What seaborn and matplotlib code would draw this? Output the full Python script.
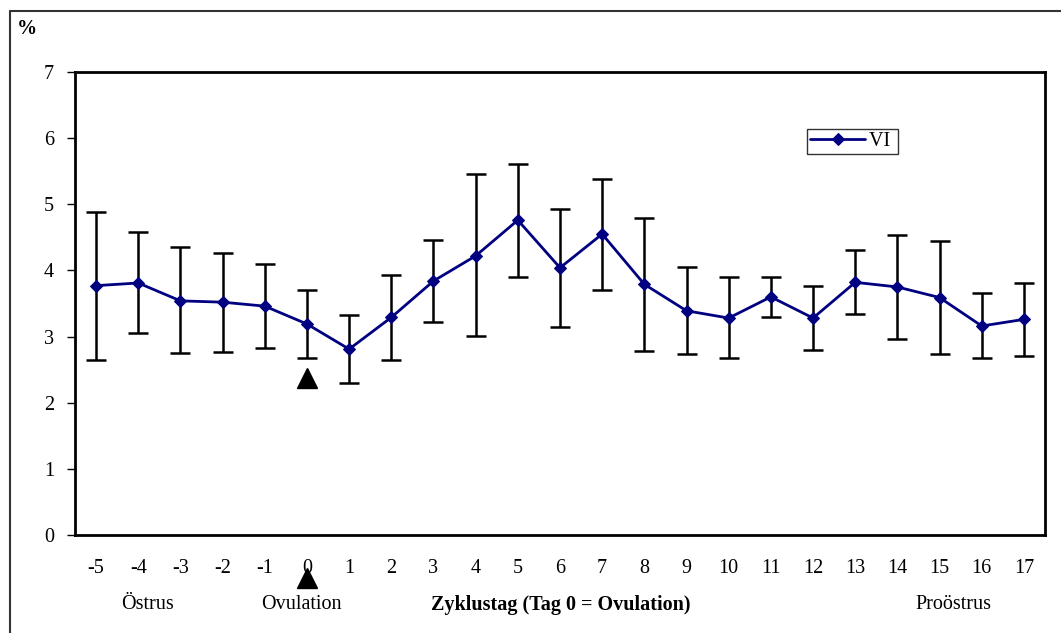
import matplotlib
matplotlib.use("Agg")
import matplotlib.pyplot as plt
from matplotlib.lines import Line2D
import matplotlib.transforms as mtransforms
import seaborn as sns
import pandas as pd
import numpy as np

# ---- data ----
days = [-5, -4, -3, -2, -1, 0, 1, 2, 3, 4, 5, 6, 7, 8, 9, 10, 11, 12, 13, 14, 15, 16, 17]
vi_mean = [3.77, 3.81, 3.54, 3.52, 3.46, 3.19, 2.81, 3.29, 3.84, 4.22, 4.76, 4.04, 4.55,
           3.79, 3.39, 3.28, 3.60, 3.28, 3.82, 3.75, 3.59, 3.16, 3.26]
vi_upper = [4.88, 4.58, 4.36, 4.27, 4.10, 3.71, 3.32, 3.93, 4.46, 5.46, 5.61, 4.93, 5.38,
            4.79, 4.05, 3.90, 3.90, 3.76, 4.31, 4.53, 4.45, 3.66, 3.81]
vi_lower = [2.65, 3.06, 2.75, 2.77, 2.82, 2.67, 2.30, 2.65, 3.22, 3.01, 3.90, 3.15, 3.70,
            2.78, 2.73, 2.67, 3.29, 2.79, 3.34, 2.96, 2.73, 2.68, 2.71]
y_ticks = [0, 1, 2, 3, 4, 5, 6, 7]
series_name = "VI"
ovulation_day = 0
ovulation_marker_y = 2.37

sns.set_theme(style="white")
plt.rcParams['font.family'] = ['Liberation Serif', 'DejaVu Serif']
plt.rcParams['text.color'] = 'black'
plt.rcParams['axes.labelcolor'] = 'black'
plt.rcParams['xtick.color'] = 'black'
plt.rcParams['ytick.color'] = 'black'

df = pd.DataFrame({"pos": np.arange(len(days)), "day": days, "value": vi_mean})

fig = plt.figure(figsize=(10.61, 6.33), dpi=100)
W, H = 1061, 633
ax = fig.add_axes([75 / W, 1 - 535 / H, (1045 - 75) / W, (535 - 72) / H])

pos = df["pos"].to_numpy()
mean = np.array(vi_mean)
yerr = np.vstack([mean - np.array(vi_lower), np.array(vi_upper) - mean])
ax.errorbar(pos, mean, yerr=yerr, fmt="none", ecolor="black", elinewidth=1.8,
            capsize=7, capthick=1.8, zorder=2)

sns.lineplot(data=df, x="pos", y="value", ax=ax, color="#000080", linewidth=2,
             marker="D", markersize=6.5, markeredgecolor="#000080", label=series_name,
             zorder=3)

ax.set_xlim(-0.5, len(days) - 0.5)
ax.set_ylim(0, 7)
ax.set_xticks(pos)
ax.set_xticklabels([str(d) for d in days])
ax.set_yticks(y_ticks)
ax.set_yticklabels([str(t) for t in y_ticks])
ax.set_xlabel("")
ax.set_ylabel("")
ax.tick_params(axis="x", length=0, pad=17, labelsize=14.5, colors="black")
ax.tick_params(axis="y", length=6, width=1, pad=9, labelsize=14.5, colors="black",
               left=True, direction="out")
for s in ax.spines.values():
    s.set_color("black")
    s.set_linewidth(2)
    s.set_visible(True)

ov_idx = days.index(ovulation_day)
# triangle marker in plot
ax.plot([ov_idx], [ovulation_marker_y], marker="^", markersize=15, color="black",
        linestyle="none", zorder=4)
# triangle below the axis
trans = mtransforms.blended_transform_factory(ax.transData, ax.transAxes)
ax.plot([ov_idx], [-0.093], marker="^", markersize=15, color="black", linestyle="none",
        transform=trans, clip_on=False, zorder=4)

# annotations below axis
ax.text(0.075, -0.151, "Östrus", transform=ax.transAxes, ha="center", va="center", fontsize=14.5)
ax.text(0.233, -0.151, "Ovulation", transform=ax.transAxes, ha="center", va="center", fontsize=14.5)
ax.text(0.501, -0.151, "Zyklustag (Tag 0 = Ovulation)", transform=ax.transAxes, ha="center",
        va="center", fontsize=14.5, fontweight="bold")
ax.text(0.906, -0.151, "Proöstrus", transform=ax.transAxes, ha="center", va="center", fontsize=14.5)

fig.text(17 / W, 1 - 29 / H, "%", ha="left", va="center", fontsize=14.5, fontweight="bold")

leg = ax.legend(loc="upper left", bbox_to_anchor=(0.755, 0.877), frameon=True, fancybox=False,
                edgecolor="black", fontsize=14.5, handlelength=2.7, handletextpad=0.2,
                borderpad=0.15, borderaxespad=0)
leg.get_frame().set_linewidth(1)
for t in leg.get_texts():
    t.set_color("black")
leg.get_texts()[0].set_text(series_name + " ")

# outer frame (cropped on right/bottom)
fig.add_artist(Line2D([10 / W, 1.0], [1 - 11 / H, 1 - 11 / H], transform=fig.transFigure,
                      color="#333333", linewidth=1.5))
fig.add_artist(Line2D([10 / W, 10 / W], [1 - 11 / H, 0.0], transform=fig.transFigure,
                      color="#333333", linewidth=1.5))

fig.savefig("out.png", dpi=100)
